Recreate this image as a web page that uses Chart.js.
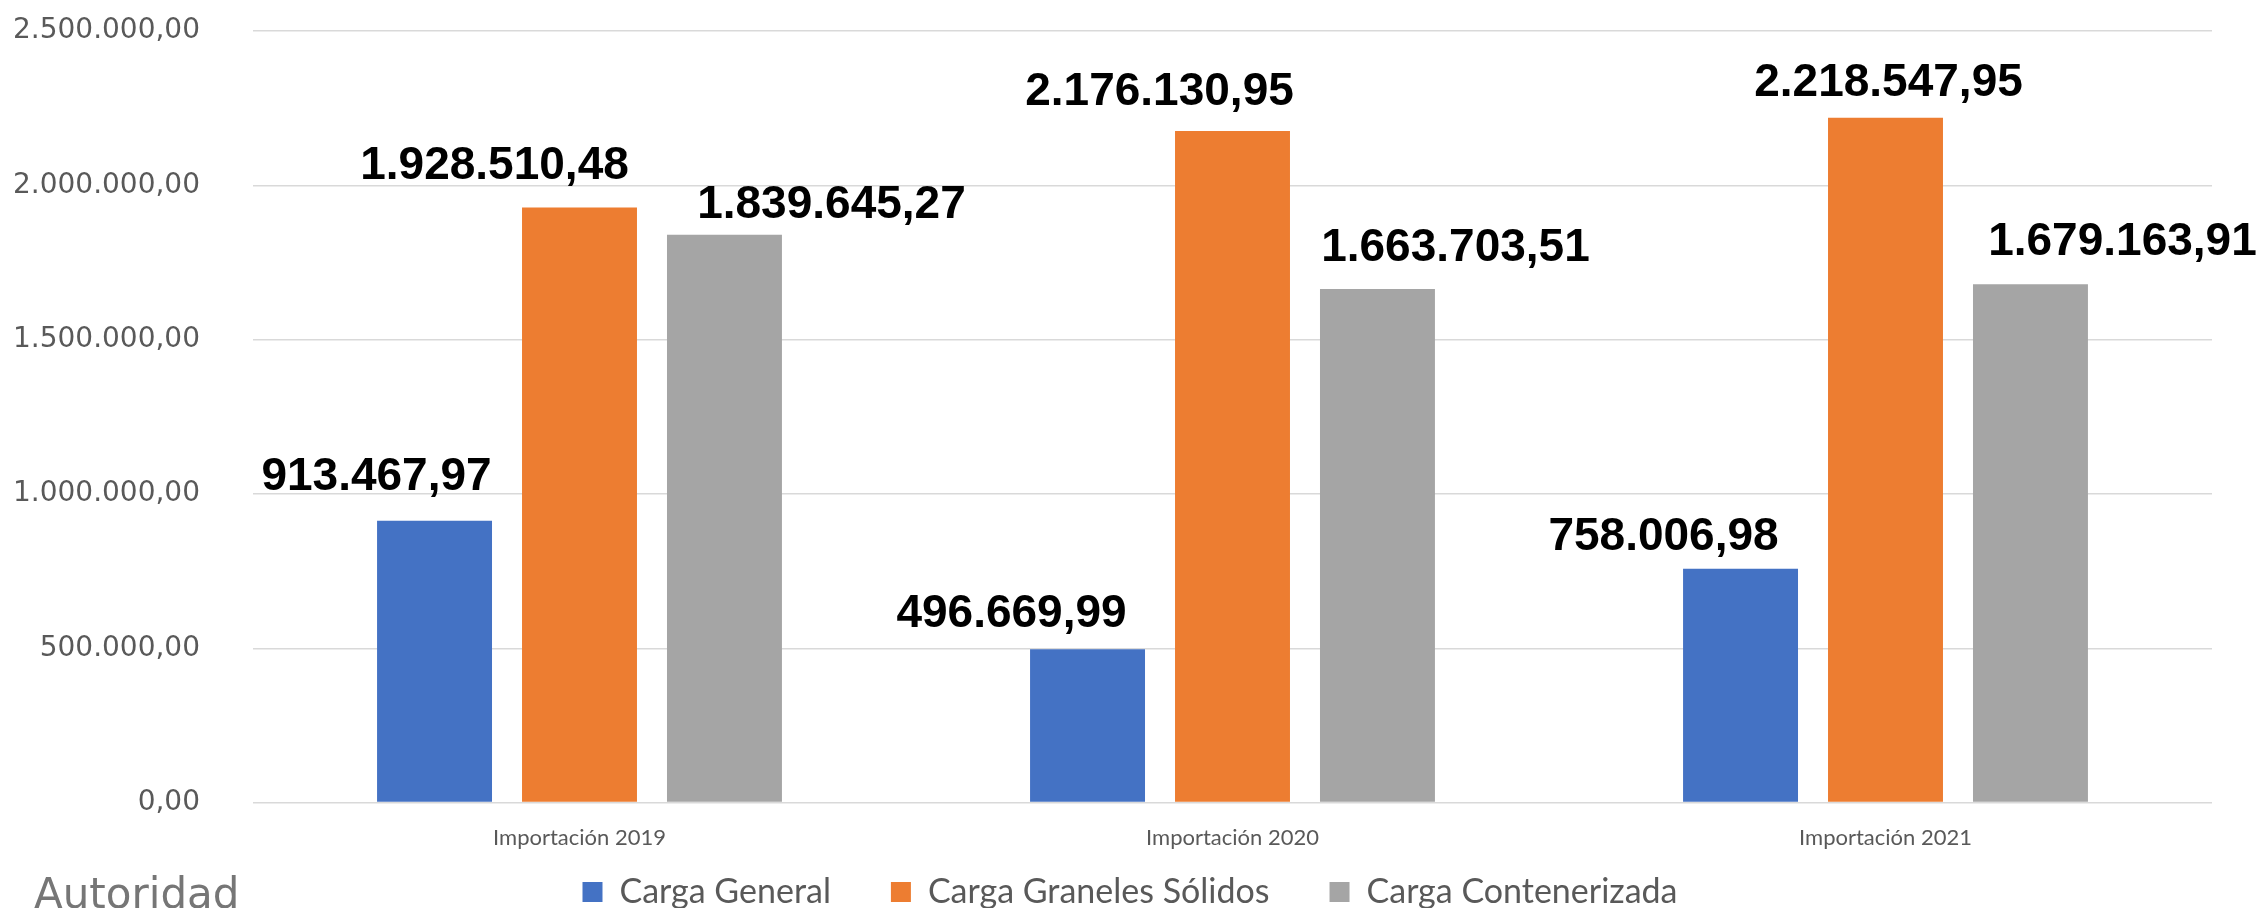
<!DOCTYPE html>
<html>
<head>
<meta charset="utf-8">
<script src="https://cdn.jsdelivr.net/npm/chart.js@4.4.1/dist/chart.umd.min.js"></script>
<style>
    html, body { margin: 0; padding: 0; background: #fff; overflow: hidden; }
    #wrap { position: relative; width: 2267px; height: 908px; overflow: hidden; }
    #autoridad {
        position: absolute; left: 34px; top: 873px;
        font: 42px "DejaVu Sans", sans-serif; line-height: 1; color: #767676;
    }
</style>
</head>
<body>
<div id="wrap">
    <canvas id="cargaChart" width="2267" height="977"></canvas>
    <div id="autoridad">Autoridad</div>
</div>
<script>
const years = ["Importación 2019", "Importación 2020", "Importación 2021"];

const cargaGeneral = [913467.97, 496669.99, 758006.98];
const cargaGraneles = [1928510.48, 2176130.95, 2218547.95];
const cargaContenerizada = [1839645.27, 1663703.51, 1679163.91];

const yTicks = [0, 500000, 1000000, 1500000, 2000000, 2500000];

const colours = ["#4472C4", "#ED7D31", "#A5A5A5"];

// label nudges relative to the top of each bar (dx, height above top)
const labelShift = [
    [[-58, 43], [-76, 35], [-77, 31]],
    [[-85, 41], [-73, 39], [3, 35]],
    [[107, 29], [78, 41], [92, 42]],
];

function formatNum(v) {
    let neg = v < 0;
    let s = Math.abs(v).toFixed(2);
    let parts = s.split('.');
    let intPart = parts[0].replace(/\B(?=(\d{3})+(?!\d))/g, '.');
    return (neg ? '-' : '') + intPart + ',' + parts[1];
}

const barLabels = {
    id: 'barLabels',
    afterDatasetsDraw(chart) {
        const ctx = chart.ctx;
        ctx.save();
        ctx.font = 'bold 46px "Liberation Sans", Arial, sans-serif';
        ctx.fillStyle = '#000';
        ctx.textAlign = 'center';
        ctx.textBaseline = 'middle';
        chart.data.datasets.forEach((ds, di) => {
            chart.getDatasetMeta(di).data.forEach((bar, i) => {
                let sh = labelShift[di][i];
                ctx.fillText(formatNum(ds.data[i]), bar.x + sh[0], bar.y - sh[1]);
            });
        });
        ctx.restore();
    }
};

// the legend needs wide gaps between items but sits close under the axis,
// and is centred on the page rather than on the padded chart
const legendShift = {
    id: 'legendShift',
    afterLayout(chart) {
        chart.legend.top -= 58;
        chart.legend.bottom -= 58;
        chart.legend.left += 24;
        chart.legend.right += 24;
    }
};

new Chart(
    document.getElementById('cargaChart'),
    {
        type: 'bar',
        data: {
            labels: years,
            datasets: [
                {
                    label: 'Carga General',
                    data: cargaGeneral,
                    backgroundColor: colours[0],
                },
                {
                    label: 'Carga Graneles Sólidos',
                    data: cargaGraneles,
                    backgroundColor: colours[1],
                },
                {
                    label: 'Carga Contenerizada',
                    data: cargaContenerizada,
                    backgroundColor: colours[2],
                }
            ]
        },
        options: {
            responsive: false,
            animation: false,
            categoryPercentage: 0.666,
            barPercentage: 0.793,
            layout: {
                padding: { left: 0, right: 55, top: 31, bottom: 0 }
            },
            plugins: {
                tooltip: { enabled: false },
                legend: {
                    position: 'bottom',
                    labels: {
                        boxWidth: 20,
                        boxHeight: 20,
                        padding: 60,
                        color: '#595959',
                        font: { family: 'Lato', size: 34 }
                    }
                }
            },
            scales: {
                x: {
                    grid: { display: false, drawTicks: false },
                    border: { display: false },
                    ticks: {
                        padding: 22,
                        color: '#595959',
                        font: { family: 'Lato', size: 22 }
                    }
                },
                y: {
                    min: 0,
                    max: 2500000,
                    afterBuildTicks(scale) {
                        scale.ticks = yTicks.map(v => ({ value: v }));
                    },
                    grid: {
                        color: '#d9d9d9',
                        lineWidth: 1.5,
                        drawTicks: true,
                        tickLength: 50,
                        tickColor: 'rgba(0,0,0,0)'
                    },
                    border: { display: false },
                    ticks: {
                        padding: 3,
                        color: '#595959',
                        font: { family: 'DejaVu Sans', size: 28 },
                        callback: (v) => formatNum(v)
                    },
                    afterFit(scale) { scale.width = 253; }
                }
            }
        },
        plugins: [barLabels, legendShift]
    }
);
</script>
</body>
</html>
